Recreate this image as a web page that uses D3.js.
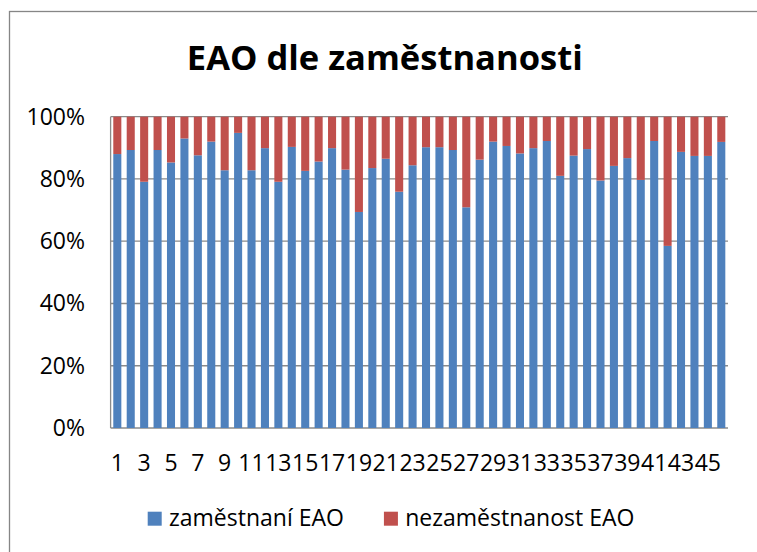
<!DOCTYPE html>
<html lang="cs">
<head>
  <meta charset="UTF-8">
  <script src="https://d3js.org/d3.v7.min.js"></script>
  <style>
    body { margin: 0; background: #fff; }
    text { font-family: "Open Sans", sans-serif; fill: #000; }
  </style>
</head>
<body>
  <script>
    // data (percent of EAO per area)
    const categories = d3.range(1, 47);
    const zamestnani = [
      88.0, 89.3, 79.1, 89.3, 85.3, 93.0, 87.6, 92.0, 82.8, 94.8,
      82.8, 89.9, 79.1, 90.3, 82.6, 85.6, 89.9, 83.0, 69.4, 83.5,
      86.5, 75.9, 84.4, 90.2, 90.2, 89.3, 70.9, 86.2, 92.0, 90.6,
      88.2, 89.9, 92.2, 81.0, 87.5, 89.6, 79.5, 84.2, 86.7, 79.7,
      92.2, 58.5, 88.7, 87.4, 87.4, 91.9
    ];
    const nezamestnanost = [
      12.0, 10.7, 20.9, 10.7, 14.7, 7.0, 12.4, 8.0, 17.2, 5.2,
      17.2, 10.1, 20.9, 9.7, 17.4, 14.4, 10.1, 17.0, 30.6, 16.5,
      13.5, 24.1, 15.6, 9.8, 9.8, 10.7, 29.1, 13.8, 8.0, 9.4,
      11.8, 10.1, 7.8, 19.0, 12.5, 10.4, 20.5, 15.8, 13.3, 20.3,
      7.8, 41.5, 11.3, 12.6, 12.6, 8.1
    ];
    const seriesNames = ["zaměstnaní EAO", "nezaměstnanost EAO"];
    const colors = ["#4F81BD", "#C0504D"];
    const yTicks = [0, 0.2, 0.4, 0.6, 0.8, 1];
    const title = "EAO dle zaměstnanosti";

    const width = 757, height = 552;
    const plot = { left: 110.6, right: 728, top: 116.7, bottom: 428 };

    const svg = d3.select("body").append("svg")
      .attr("width", width).attr("height", height);

    // chart frame (right and bottom edges fall outside the picture)
    svg.append("rect")
      .attr("x", 9.5).attr("y", 11.5)
      .attr("width", 780).attr("height", 600)
      .attr("fill", "none").attr("stroke", "#868686").attr("stroke-width", 1.3);

    const rows = categories.map((c, i) => ({ cat: c, a: zamestnani[i], b: nezamestnanost[i] }));
    const stacked = d3.stack().keys(["a", "b"]).offset(d3.stackOffsetExpand)(rows);

    const x = d3.scaleBand().domain(categories)
      .range([plot.left, plot.right]).paddingInner(0.4).paddingOuter(0.2);
    const y = d3.scaleLinear().domain([0, 1]).range([plot.bottom, plot.top]);

    // gridlines
    svg.append("g").selectAll("line")
      .data(yTicks)
      .join("line")
      .attr("x1", plot.left).attr("x2", plot.right)
      .attr("y1", d => y(d)).attr("y2", d => y(d))
      .attr("stroke", "#8a8a8a").attr("stroke-width", 1.3);

    // bars
    svg.append("g").selectAll("g")
      .data(stacked)
      .join("g")
      .attr("fill", (d, i) => colors[i])
      .selectAll("rect")
      .data(d => d)
      .join("rect")
      .attr("x", d => x(d.data.cat))
      .attr("width", x.bandwidth())
      .attr("y", d => y(d[1]))
      .attr("height", d => y(d[0]) - y(d[1]));

    // y axis line
    svg.append("line")
      .attr("x1", plot.left).attr("x2", plot.left)
      .attr("y1", plot.top).attr("y2", plot.bottom)
      .attr("stroke", "#8a8a8a").attr("stroke-width", 1.3);

    // y labels
    const yAxis = svg.append("g")
      .attr("transform", `translate(${plot.left},0)`)
      .call(d3.axisLeft(y).tickValues(yTicks).tickFormat(d3.format(".0%")).tickSize(0).tickPadding(25.6));
    yAxis.select(".domain").remove();
    yAxis.selectAll("text")
      .style("font-family", "'Open Sans', sans-serif")
      .style("font-size", "23px")
      .attr("fill", "#000");

    // x labels (every other category)
    const xAxis = svg.append("g")
      .attr("transform", `translate(0,${plot.bottom})`)
      .call(d3.axisBottom(x).tickValues(categories.filter(c => c % 2 === 1)).tickSize(0));
    xAxis.select(".domain").remove();
    xAxis.selectAll("text")
      .attr("y", 42.7).attr("dy", 0)
      .style("font-family", "'Open Sans', sans-serif")
      .style("font-size", "23px")
      .attr("fill", "#000");

    // title, fitted to its width in the original
    const t = svg.append("text")
      .attr("x", 384.8).attr("y", 70)
      .attr("text-anchor", "middle")
      .style("font-weight", "bold")
      .style("font-size", "32px")
      .text(title);
    const tw = t.node().getComputedTextLength();
    t.style("font-size", (32 * 396 / tw) + "px");

    // legend
    let lx = 147.7;
    seriesNames.forEach((name, i) => {
      svg.append("rect")
        .attr("x", lx).attr("y", 511.7)
        .attr("width", 14).attr("height", 14)
        .attr("fill", colors[i]);
      const lt = svg.append("text")
        .attr("x", lx + 21.3).attr("y", 526)
        .style("font-size", "23px")
        .text(name);
      lx += 21.3 + lt.node().getComputedTextLength() + 40;
    });
  </script>
</body>
</html>
